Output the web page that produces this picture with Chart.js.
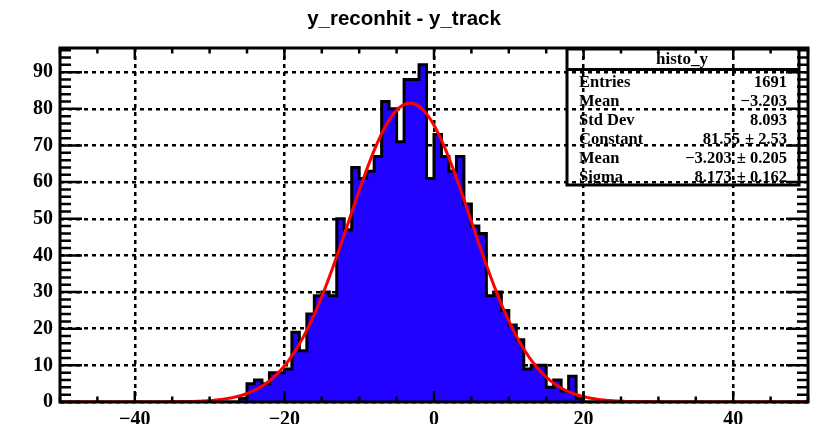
<!DOCTYPE html>
<html>
<head>
<meta charset="utf-8">
<title>y_reconhit - y_track</title>
<script src="https://cdn.jsdelivr.net/npm/chart.js@4.4.1/dist/chart.umd.min.js"></script>
<style>
  html, body { margin: 0; padding: 0; background: #fff; }
  #wrap { width: 821px; height: 424px; }
</style>
</head>
<body>
<div id="wrap"><canvas id="histo" width="821" height="424"></canvas></div>
<script>
// histo_y: 100 bins of width 1 from -50 to 50, only the non-empty stretch is listed
const xMin = -50;
const xMax = 50;
const yMax = 96.6;
const firstBinLow = -26;
const binCounts = [
  1, 5, 6, 5, 8, 8, 9, 19, 14, 24,        // -26 .. -17
  29, 30, 29, 50, 47, 64, 61, 63, 67, 82, // -16 .. -7
  80, 71, 88, 88, 92, 61, 73, 67, 63, 67, // -6 .. 3
  54, 48, 46, 29, 30, 25, 21, 17, 9, 10,  // 4 .. 13
  10, 4, 6, 3, 7, 1                       // 14 .. 19
];

// gaus fit result, as printed in the stats box
const fitConstant = 81.55;
const fitMean = -3.203;
const fitSigma = 8.173;

const xTickValues = [-40, -20, 0, 20, 40];
const xTickLabels = ['\u221240', '\u221220', '0', '20', '40'];
const yTickValues = [0, 10, 20, 30, 40, 50, 60, 70, 80, 90];
const yTickLabels = ['0', '10', '20', '30', '40', '50', '60', '70', '80', '90'];

const statsTitle = 'histo_y';
const statsLabels = ['Entries', 'Mean', 'Std Dev', 'Constant', 'Mean', 'Sigma'];
const statsValues = ['1691', '\u22123.203', '8.093', '81.55', '\u22123.203', '8.173'];
const statsErrors = ['', '', '', '2.53', '0.205', '0.162'];

const chartTitle = 'y_reconhit - y_track';

// step outline: one point per bin low edge, last edge closes at 0
const histPoints = [];
for (let edge = xMin; edge <= xMax; edge++) {
  const c = binCounts[edge - firstBinLow];
  histPoints.push({ x: edge, y: edge < xMax && c !== undefined ? c : 0 });
}

// fitted gaussian drawn over the whole axis
const fitPoints = [];
for (let i = 0; i <= 500; i++) {
  const xv = xMin + i * (xMax - xMin) / 500;
  const z = (xv - fitMean) / fitSigma;
  fitPoints.push({ x: xv, y: fitConstant * Math.exp(-0.5 * z * z) });
}

const serifBold = { family: '"Liberation Serif", "Times New Roman", serif', weight: 'bold', size: 20 };

// ROOT style frame, inward ticks on all four sides, stats box and title
const rootFrame = {
  id: 'rootFrame',
  afterDatasetsDraw(chart) {
    const { ctx, chartArea: a, scales: { x, y } } = chart;
    ctx.save();
    ctx.strokeStyle = '#000';
    ctx.lineCap = 'butt';

    ctx.lineWidth = 2.5;
    ctx.beginPath();
    for (let v = xMin; v <= xMax; v += 5) {
      const px = x.getPixelForValue(v);
      const len = xTickValues.includes(v) ? 11 : 5.5;
      ctx.moveTo(px, a.bottom); ctx.lineTo(px, a.bottom - len);
      ctx.moveTo(px, a.top); ctx.lineTo(px, a.top + len);
    }
    for (let v = 0; v <= yMax; v += 2) {
      const py = y.getPixelForValue(v);
      const len = yTickValues.includes(v) ? 22 : 11;
      ctx.moveTo(a.left, py); ctx.lineTo(a.left + len, py);
      ctx.moveTo(a.right, py); ctx.lineTo(a.right - len, py);
    }
    ctx.stroke();

    ctx.lineWidth = 3;
    ctx.strokeRect(a.left, a.top, a.right - a.left, a.bottom - a.top);
    ctx.restore();
  },
  afterDraw(chart) {
    const { ctx } = chart;
    ctx.save();
    ctx.fillStyle = '#000';

    // title
    ctx.font = 'bold 20.5px "Liberation Sans", Arial, sans-serif';
    ctx.textAlign = 'center';
    ctx.textBaseline = 'alphabetic';
    ctx.fillText(chartTitle, 404, 25);

    // stats box (no fill, grid shows through)
    const bx = 567, by = 49, bw = 232, bh = 136;
    ctx.strokeStyle = '#000';
    ctx.lineWidth = 3;
    ctx.strokeRect(bx, by, bw, bh);
    ctx.beginPath();
    ctx.moveTo(bx, 69.5); ctx.lineTo(bx + bw, 69.5);
    ctx.stroke();

    ctx.font = 'bold 17px "Liberation Serif", "Times New Roman", serif';
    ctx.textAlign = 'center';
    ctx.fillText(statsTitle, 682, 64);

    ctx.font = 'bold 16.5px "Liberation Serif", "Times New Roman", serif';
    const rightX = 787;
    statsLabels.forEach((lab, i) => {
      const base = 86.5 + i * 19;
      ctx.textAlign = 'left';
      ctx.fillText(lab, 579, base);
      ctx.textAlign = 'right';
      if (statsErrors[i]) {
        const err = '\u00b1 ' + statsErrors[i];
        ctx.fillText(err, rightX, base);
        ctx.fillText(statsValues[i], rightX - ctx.measureText(err).width - 5, base);
      } else {
        ctx.fillText(statsValues[i], rightX, base);
      }
    });
    ctx.restore();
  }
};

new Chart(document.getElementById('histo'), {
  type: 'line',
  data: {
    datasets: [
      {
        label: 'gaus',
        data: fitPoints,
        borderColor: '#ff0000',
        borderWidth: 3,
        pointRadius: 0,
        fill: false,
        tension: 0,
        order: 0
      },
      {
        label: statsTitle,
        data: histPoints,
        stepped: 'before',
        borderColor: '#000000',
        borderWidth: 3,
        borderJoinStyle: 'miter',
        backgroundColor: '#2000ff',
        fill: 'origin',
        pointRadius: 0,
        order: 1
      }
    ]
  },
  options: {
    responsive: false,
    animation: false,
    events: [],
    layout: { padding: { top: 48, right: 13, left: 0, bottom: 0 } },
    plugins: {
      legend: { display: false },
      tooltip: { enabled: false },
      title: { display: false }
    },
    scales: {
      x: {
        type: 'linear',
        min: xMin,
        max: xMax,
        afterBuildTicks: s => { s.ticks = xTickValues.map(v => ({ value: v })); },
        afterFit: s => { s.height = 22; },
        ticks: {
          callback: v => xTickLabels[xTickValues.indexOf(v)],
          font: serifBold,
          color: '#000',
          padding: 6,
          maxRotation: 0,
          autoSkip: false
        },
        grid: { color: '#000', lineWidth: 2.5, drawTicks: false },
        border: { display: false, dash: [4, 4] }
      },
      y: {
        type: 'linear',
        min: 0,
        max: yMax,
        afterBuildTicks: s => { s.ticks = yTickValues.map(v => ({ value: v })); },
        afterFit: s => { s.width = 60; },
        ticks: {
          callback: v => yTickLabels[yTickValues.indexOf(v)],
          font: serifBold,
          color: '#000',
          padding: 7,
          autoSkip: false
        },
        grid: { color: '#000', lineWidth: 2.5, drawTicks: false },
        border: { display: false, dash: [4, 4] }
      }
    }
  },
  plugins: [rootFrame]
});
</script>
</body>
</html>
